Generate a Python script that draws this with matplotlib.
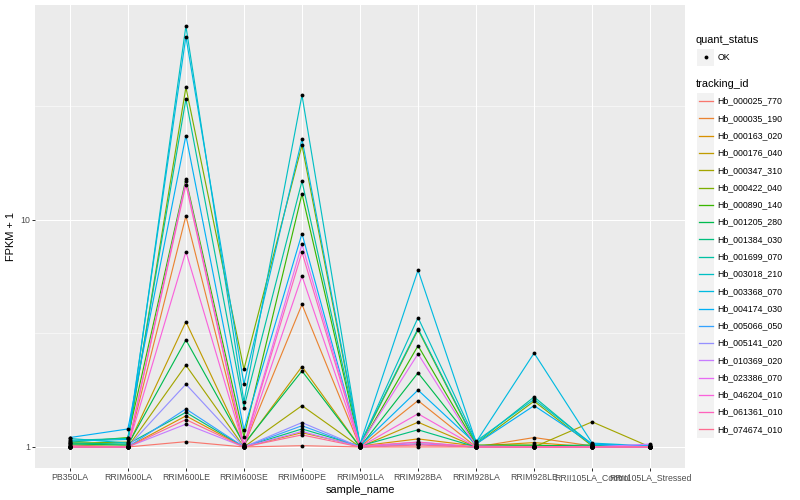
import numpy as np
import matplotlib
matplotlib.use("Agg")
import matplotlib.pyplot as plt
from matplotlib.patches import Rectangle

plt.rcParams['font.family'] = ['Liberation Sans', 'DejaVu Sans']

samples = ["PB350LA", "RRIM600LA", "RRIM600LE", "RRIM600SE", "RRIM600PE",
           "RRIM901LA", "RRIM928BA", "RRIM928LA", "RRIM928LE",
           "RRII105LA_Control", "RRII105LA_Stressed"]

tracking_ids = ["Hb_000025_770", "Hb_000035_190", "Hb_000163_020", "Hb_000176_040",
                "Hb_000347_310", "Hb_000422_040", "Hb_000890_140", "Hb_001205_280",
                "Hb_001384_030", "Hb_001699_070", "Hb_003018_210", "Hb_003368_070",
                "Hb_004174_030", "Hb_005066_050", "Hb_005141_020", "Hb_010369_020",
                "Hb_023386_070", "Hb_046204_010", "Hb_061361_010", "Hb_074674_010"]

# ggplot hue palette for 20 groups
colors = ["#F8766D", "#EA8331", "#D89000", "#C09B00", "#A3A500", "#7CAE00",
          "#39B600", "#00BB4E", "#00BF7D", "#00C1A3", "#00BFC4", "#00BAE0",
          "#00B0F6", "#35A2FF", "#9590FF", "#C77CFF", "#E76BF3", "#FA62DB",
          "#FF62BC", "#FF6C91"]

# FPKM + 1 per sample, in tracking_id order
pb350la = [1.0, 1.0, 1.01, 1.0, 1.02, 1.04, 1.05, 1.03, 1.04, 1.07,
           1.09, 1.06, 1.1, 1.0, 1.0, 1.0, 1.01, 1.0, 1.0, 1.0]
rrim600la = [1.0, 1.0, 1.0, 1.01, 1.0, 1.05, 1.1, 1.02, 1.03, 1.09,
             1.04, 1.08, 1.2, 1.0, 1.0, 1.0, 1.0, 1.0, 1.0, 1.0]
rrim600le = [1.055, 10.4, 1.37, 3.56, 2.29, 38.3, 15.1, 2.96, 1.42, 34.0,
             71.3, 64.0, 23.5, 1.47, 1.89, 1.26, 14.8, 7.25, 14.3, 1.32]
rrim600se = [1.0, 1.01, 1.0, 1.02, 1.0, 2.2, 1.11, 1.03, 1.0, 1.49,
             1.58, 1.89, 1.19, 1.0, 1.0, 1.0, 1.02, 1.0, 1.01, 1.0]
rrim600pe = [1.013, 4.24, 1.156, 2.26, 1.52, 21.3, 13.0, 2.16, 1.2, 14.8,
             35.4, 22.7, 8.7, 1.24, 1.28, 1.17, 7.8, 5.66, 7.2, 1.13]
rrim901la = [1.0, 1.0, 1.01, 1.0, 1.0, 1.02, 1.01, 1.0, 1.01, 1.03,
             1.02, 1.03, 1.01, 1.0, 1.0, 1.0, 1.02, 1.0, 1.01, 1.0]
rrim928ba = [1.0, 1.6, 1.085, 1.285, 1.03, 3.28, 2.79, 2.12, 1.19, 3.32,
             3.71, 6.0, 1.78, 1.03, 1.05, 1.03, 2.57, 1.4, 1.05, 1.02]
rrim928la = [1.0, 1.0, 1.01, 1.0, 1.0, 1.03, 1.02, 1.01, 1.0, 1.04,
             1.06, 1.05, 1.03, 1.0, 1.0, 1.0, 1.01, 1.0, 1.0, 1.0]
rrim928le = [1.0, 1.1, 1.045, 1.01, 1.0, 1.59, 1.02, 1.01, 1.0, 1.66,
             1.62, 2.59, 1.52, 1.0, 1.0, 1.0, 1.0, 1.0, 1.0, 1.0]
rrii105la_control = [1.0, 1.01, 1.0, 1.0, 1.29, 1.01, 1.0, 1.02, 1.01, 1.02,
                     1.03, 1.04, 1.03, 1.0, 1.0, 1.0, 1.0, 1.0, 1.0, 1.0]
rrii105la_stressed = [1.0, 1.0, 1.0, 1.0, 1.0, 1.0, 1.0, 1.0, 1.0, 1.01,
                      1.0, 1.01, 1.0, 1.02, 1.0, 1.03, 1.0, 1.0, 1.0, 1.0]

fpkm = np.array([pb350la, rrim600la, rrim600le, rrim600se, rrim600pe, rrim901la,
                 rrim928ba, rrim928la, rrim928le, rrii105la_control,
                 rrii105la_stressed]).T

W, H = 800, 500
fig = plt.figure(figsize=(W / 72, H / 72), dpi=72)

# panel in pixel coords
pl, pr, pt, pb = 35, 685, 5, 468
ax = fig.add_axes([pl / W, 1 - pb / H, (pr - pl) / W, (pb - pt) / H])
ax.set_facecolor("#EBEBEB")
for s in ax.spines.values():
    s.set_visible(False)

x = np.arange(len(samples))
for i, tid in enumerate(tracking_ids):
    ax.plot(x, fpkm[i], color=colors[i], lw=1.15, zorder=3)
for i in range(len(tracking_ids)):
    ax.scatter(x, fpkm[i], s=15, color="black", zorder=4, linewidths=0)

ax.set_yscale("log")
lo, hi = np.log10(fpkm.min()), np.log10(fpkm.max())
pad = (hi - lo) * 0.05
ax.set_ylim(10 ** (lo - pad), 10 ** (hi + pad))
ax.set_xlim(-0.6, len(samples) - 0.4)

ax.set_yticks([1, 10])
ax.set_yticklabels(["1", "10"])
ax.set_yticks([10 ** 0.5, 10 ** 1.5], minor=True)
ax.yaxis.set_minor_formatter(plt.NullFormatter())
ax.set_xticks(x)
ax.set_xticklabels(samples)
ax.tick_params(axis="both", which="major", length=2.75, width=1.0, color="#333333",
               labelsize=8.8, labelcolor="#4D4D4D", pad=2)
ax.tick_params(axis="y", which="minor", length=0)
ax.grid(True, which="major", color="white", lw=1.05, zorder=0)
ax.grid(True, which="minor", axis="y", color="white", lw=0.55, zorder=0)
ax.set_axisbelow(True)
ax.set_xlabel("sample_name", fontsize=11, labelpad=3)
ax.set_ylabel("FPKM + 1", fontsize=11, labelpad=4)

# legends, drawn in pixel coords
lg = fig.add_axes([0, 0, 1, 1], facecolor="none")
lg.set_xlim(0, W)
lg.set_ylim(H, 0)
lg.axis("off")

key = 17.28
kx = 697
lg.text(696, 40, "quant_status", fontsize=11, va="center", ha="left")
lg.add_patch(Rectangle((kx, 48.5), key, key, facecolor="#F2F2F2", edgecolor="none"))
lg.scatter([kx + key / 2], [48.5 + key / 2], s=15, color="black", linewidths=0)
lg.text(kx + key + 3, 48.5 + key / 2, "OK", fontsize=8.8, va="center", ha="left")

lg.text(696, 84, "tracking_id", fontsize=11, va="center", ha="left")
y0 = 92.5
for i, tid in enumerate(tracking_ids):
    yy = y0 + i * key
    lg.add_patch(Rectangle((kx, yy), key, key, facecolor="#F2F2F2", edgecolor="none"))
    lg.plot([kx + 1.5, kx + key - 1.5], [yy + key / 2] * 2, color=colors[i], lw=1.3)
    lg.text(kx + key + 3, yy + key / 2, tid, fontsize=8.8, va="center", ha="left")

fig.savefig("out.png", dpi=72)
